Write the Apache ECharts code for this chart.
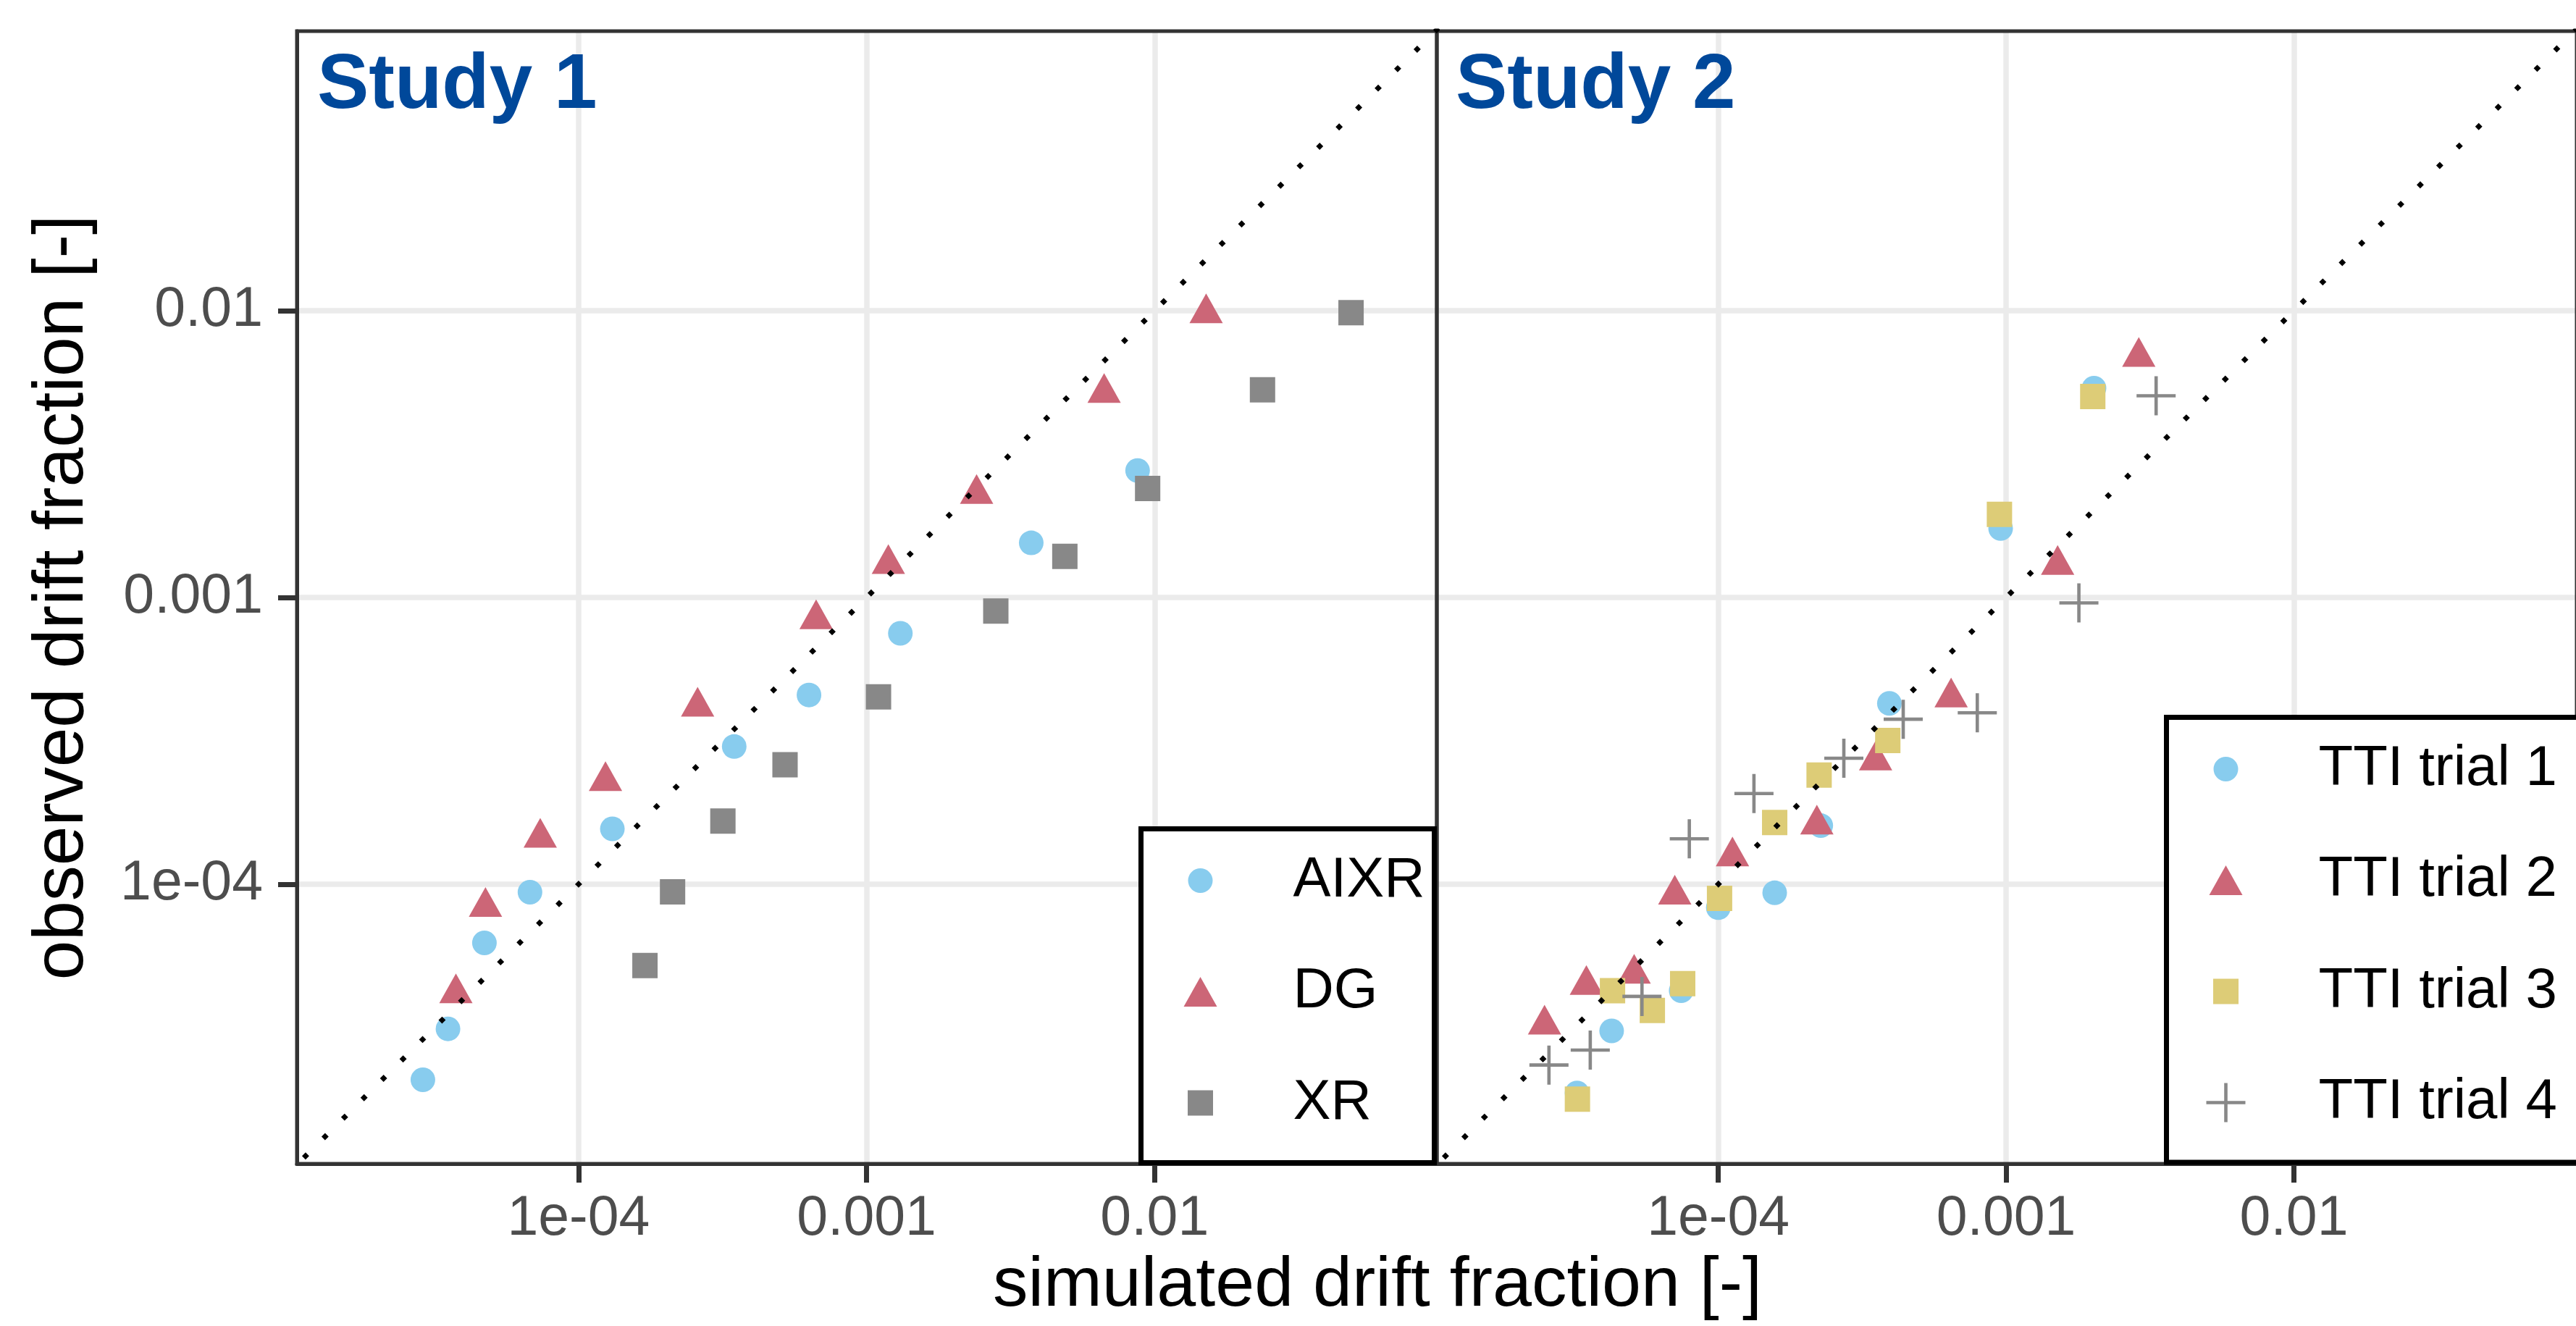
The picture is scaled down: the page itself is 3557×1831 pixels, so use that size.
<!DOCTYPE html>
<html>
<head>
<meta charset="utf-8">
<script src="https://cdn.jsdelivr.net/npm/echarts@6/dist/echarts.min.js"></script>
<style>html,body{margin:0;padding:0;background:#fff}#chart{width:3557px;height:1831px}</style>
</head>
<body>
<div id="chart"></div>
<script>
// ---------- data (simulated vs observed drift fraction) ----------
const tickValues = [1e-4, 1e-3, 1e-2];
const tickLabels = ['1e-04', '0.001', '0.01'];
const refLine = [1e-5, 1];            // 1:1 line

// Study 1
const aixrSim = [2.88e-5, 3.52e-5, 4.71e-5, 6.78e-5, 1.31e-4, 3.47e-4, 6.31e-4, 1.31e-3, 3.73e-3, 8.73e-3];
const aixrObs = [2.08e-5, 3.13e-5, 6.24e-5, 9.38e-5, 1.56e-4, 3.02e-4, 4.57e-4, 7.50e-4, 1.55e-3, 2.77e-3];
const dgSim   = [3.75e-5, 4.75e-5, 7.36e-5, 1.24e-4, 2.59e-4, 6.68e-4, 1.19e-3, 2.41e-3, 6.68e-3, 1.51e-2];
const dgObs   = [4.33e-5, 8.67e-5, 1.51e-4, 2.38e-4, 4.33e-4, 8.73e-4, 1.36e-3, 2.39e-3, 5.38e-3, 1.02e-2];
const xrSim   = [1.70e-4, 2.12e-4, 3.17e-4, 5.21e-4, 1.10e-3, 2.81e-3, 4.88e-3, 9.46e-3, 2.37e-2, 4.81e-2];
const xrObs   = [5.20e-5, 9.40e-5, 1.66e-4, 2.61e-4, 4.50e-4, 8.97e-4, 1.39e-3, 2.40e-3, 5.30e-3, 9.84e-3];

// Study 2
const t1Sim = [3.23e-5, 4.26e-5, 7.43e-5, 1.00e-4, 1.57e-4, 2.27e-4, 3.93e-4, 9.57e-4, 2.02e-3];
const t1Obs = [1.87e-5, 3.08e-5, 4.25e-5, 8.28e-5, 9.33e-5, 1.60e-4, 4.27e-4, 1.74e-3, 5.37e-3];
const t2Sim = [2.49e-5, 3.48e-5, 5.10e-5, 7.06e-5, 1.12e-4, 2.20e-4, 3.52e-4, 6.44e-4, 1.51e-3, 2.89e-3];
const t2Obs = [3.37e-5, 4.63e-5, 5.07e-5, 9.57e-5, 1.30e-4, 1.68e-4, 2.81e-4, 4.66e-4, 1.35e-3, 7.18e-3];
const t3Sim = [3.24e-5, 4.29e-5, 5.90e-5, 7.52e-5, 1.01e-4, 1.57e-4, 2.24e-4, 3.88e-4, 9.48e-4, 2.00e-3];
const t3Obs = [1.78e-5, 4.25e-5, 3.63e-5, 4.50e-5, 8.93e-5, 1.64e-4, 2.40e-4, 3.17e-4, 1.95e-3, 5.02e-3];
const t4Sim = [2.58e-5, 3.59e-5, 5.43e-5, 7.93e-5, 1.33e-4, 2.73e-4, 4.39e-4, 7.94e-4, 1.79e-3, 3.32e-3];
const t4Obs = [2.34e-5, 2.64e-5, 4.06e-5, 1.44e-4, 2.07e-4, 2.75e-4, 3.76e-4, 3.96e-4, 9.57e-4, 5.05e-3];

// ---------- layout / style ----------
const FONT = '"Liberation Sans", Arial, Helvetica, sans-serif';
const G1 = {left: 410, top: 43, width: 1574, height: 1564};
const G2 = {left: 1984, top: 43, width: 1574, height: 1564};
const X_MIN = 1.052e-5, X_MAX = 0.0955;
const Y_MIN = 1.059e-5, Y_MAX = 0.0944;
const C_AIXR = '#88CCEE', C_DG = '#CC6677', C_XR = '#888888', C_T3 = '#DDCC77', C_T4 = '#888888';

const plusPath = 'path://M-2.3,-27H2.3V27H-2.3ZM-27,-2.3H27V2.3H-27Z';
const iconCircle = 'path://M0,0M185,56M79,28A17,17,0,1,1,45,28A17,17,0,1,1,79,28Z';
const iconTri = 'path://M0,0M185,56M62,7.5L85,48.5L39,48.5Z';
const iconSq = 'path://M0,0M185,56M44.5,10.5H79.5V45.5H44.5Z';
const iconPlus = 'path://M0,0M185,56M59.7,1H64.3V55H59.7ZM35,25.7H89V30.3H35Z';

function pairs(xs, ys) { return xs.map((x, i) => [x, ys[i]]); }
function fmt(v) {
  for (let i = 0; i < tickValues.length; i++) {
    if (Math.abs(Math.log10(v) - Math.log10(tickValues[i])) < 1e-6) return tickLabels[i];
  }
  return '';
}

function xAxis(gridIndex) {
  return {
    type: 'log', logBase: 10, gridIndex: gridIndex, min: X_MIN, max: X_MAX,
    axisLine: {show: true, onZero: false, lineStyle: {color: '#333333', width: 5}},
    axisTick: {show: true, customValues: tickValues, length: 26, lineStyle: {color: '#333333', width: 7}},
    axisLabel: {show: true, customValues: tickValues, formatter: fmt, margin: 38,
                fontSize: 77, color: '#4D4D4D', fontFamily: FONT},
    splitLine: {show: true, lineStyle: {color: '#EBEBEB', width: 7.5}},
    minorTick: {show: false}, minorSplitLine: {show: false}
  };
}
function yAxis(gridIndex, withLabels) {
  const ax = {
    type: 'log', logBase: 10, gridIndex: gridIndex, min: Y_MIN, max: Y_MAX,
    axisLine: {show: withLabels, onZero: false, lineStyle: {color: '#333333', width: 5}},
    axisTick: {show: withLabels, customValues: tickValues, length: 26, lineStyle: {color: '#333333', width: 7}},
    axisLabel: {show: withLabels, customValues: tickValues, formatter: fmt, margin: 47,
                fontSize: 77, color: '#4D4D4D', fontFamily: FONT},
    splitLine: {show: true, lineStyle: {color: '#EBEBEB', width: 7.5}},
    minorTick: {show: false}, minorSplitLine: {show: false}
  };
  if (withLabels) {
    ax.name = 'observed drift fraction [-]';
    ax.nameLocation = 'middle';
    ax.nameRotate = 90;
    ax.nameGap = 274;
    ax.nameTextStyle = {fontSize: 98, color: '#000000', fontFamily: FONT};
  }
  return ax;
}
function scatter(name, xs, ys, gi, symbol, size, color) {
  return {
    name: name, type: 'scatter', xAxisIndex: gi, yAxisIndex: gi,
    data: pairs(xs, ys), symbol: symbol, symbolSize: size, symbolKeepAspect: true,
    itemStyle: {color: color, opacity: 1}, emphasis: {disabled: true}, z: 2
  };
}
function diagonal(gi) {
  return {
    name: '1:1', type: 'line', xAxisIndex: gi, yAxisIndex: gi,
    data: [[refLine[0], refLine[0]], [refLine[1], refLine[1]]],
    showSymbol: false, symbol: 'none', clip: true, silent: true, z: 3,
    lineStyle: {color: '#000000', width: 7, type: [7, 31], dashOffset: 12.3, cap: 'butt'},
    emphasis: {disabled: true}
  };
}
function legend(left, top, padRight, names, icons) {
  return {
    show: true, orient: 'vertical', left: left, top: top,
    padding: [32.5, padRight, 43.5, 20], itemGap: 75.5,
    itemWidth: 185, itemHeight: 56, selectedMode: false,
    backgroundColor: '#FFFFFF', borderColor: '#000000', borderWidth: 7, borderRadius: 0,
    textStyle: {fontSize: 78, color: '#000000', fontFamily: FONT},
    data: names.map((n, i) => ({name: n, icon: icons[i]})), z: 4
  };
}

const option = {
  backgroundColor: '#FFFFFF',
  animation: false,
  grid: [
    Object.assign({show: false, containLabel: false}, G1),
    Object.assign({show: false, containLabel: false}, G2)
  ],
  xAxis: [xAxis(0), xAxis(1)],
  yAxis: [yAxis(0, true), yAxis(1, false)],
  legend: [
    legend(1575.5, 1144.5, 13, ['AIXR', 'DG', 'XR'], [iconCircle, iconTri, iconSq]),
    legend(2991.5, 990.5, 60, ['TTI trial 1', 'TTI trial 2', 'TTI trial 3', 'TTI trial 4'],
           [iconCircle, iconTri, iconSq, iconPlus])
  ],
  series: [
    scatter('AIXR', aixrSim, aixrObs, 0, 'circle', 34, C_AIXR),
    scatter('DG', dgSim, dgObs, 0, 'triangle', [46, 41], C_DG),
    scatter('XR', xrSim, xrObs, 0, 'rect', 35, C_XR),
    diagonal(0),
    scatter('TTI trial 1', t1Sim, t1Obs, 1, 'circle', 34, C_AIXR),
    scatter('TTI trial 2', t2Sim, t2Obs, 1, 'triangle', [46, 41], C_DG),
    scatter('TTI trial 3', t3Sim, t3Obs, 1, 'rect', 35, C_T3),
    scatter('TTI trial 4', t4Sim, t4Obs, 1, plusPath, 54, C_T4),
    diagonal(1)
  ],
  graphic: [
    {type: 'rect', silent: true, z: 3,
     shape: {x: G1.left, y: G1.top, width: G1.width, height: G1.height},
     style: {fill: 'none', stroke: '#333333', lineWidth: 5}},
    {type: 'rect', silent: true, z: 3,
     shape: {x: G2.left, y: G2.top, width: G2.width, height: G2.height},
     style: {fill: 'none', stroke: '#333333', lineWidth: 5}},
    {type: 'text', silent: true, z: 5, x: 438, y: 119,
     style: {text: 'Study 1', fontSize: 107, fontWeight: 'bold', fontFamily: FONT,
             fill: '#00489A', align: 'left', verticalAlign: 'middle'}},
    {type: 'text', silent: true, z: 5, x: 2010, y: 119,
     style: {text: 'Study 2', fontSize: 107, fontWeight: 'bold', fontFamily: FONT,
             fill: '#00489A', align: 'left', verticalAlign: 'middle'}},
    {type: 'text', silent: true, z: 5, x: 1902, y: 1776,
     style: {text: 'simulated drift fraction [-]', fontSize: 97, fontFamily: FONT,
             fill: '#000000', align: 'center', verticalAlign: 'middle'}}
  ]
};

const chart = echarts.init(document.getElementById('chart'), null, {renderer: 'canvas', width: 3557, height: 1831});
chart.setOption(option);
</script>
</body>
</html>
